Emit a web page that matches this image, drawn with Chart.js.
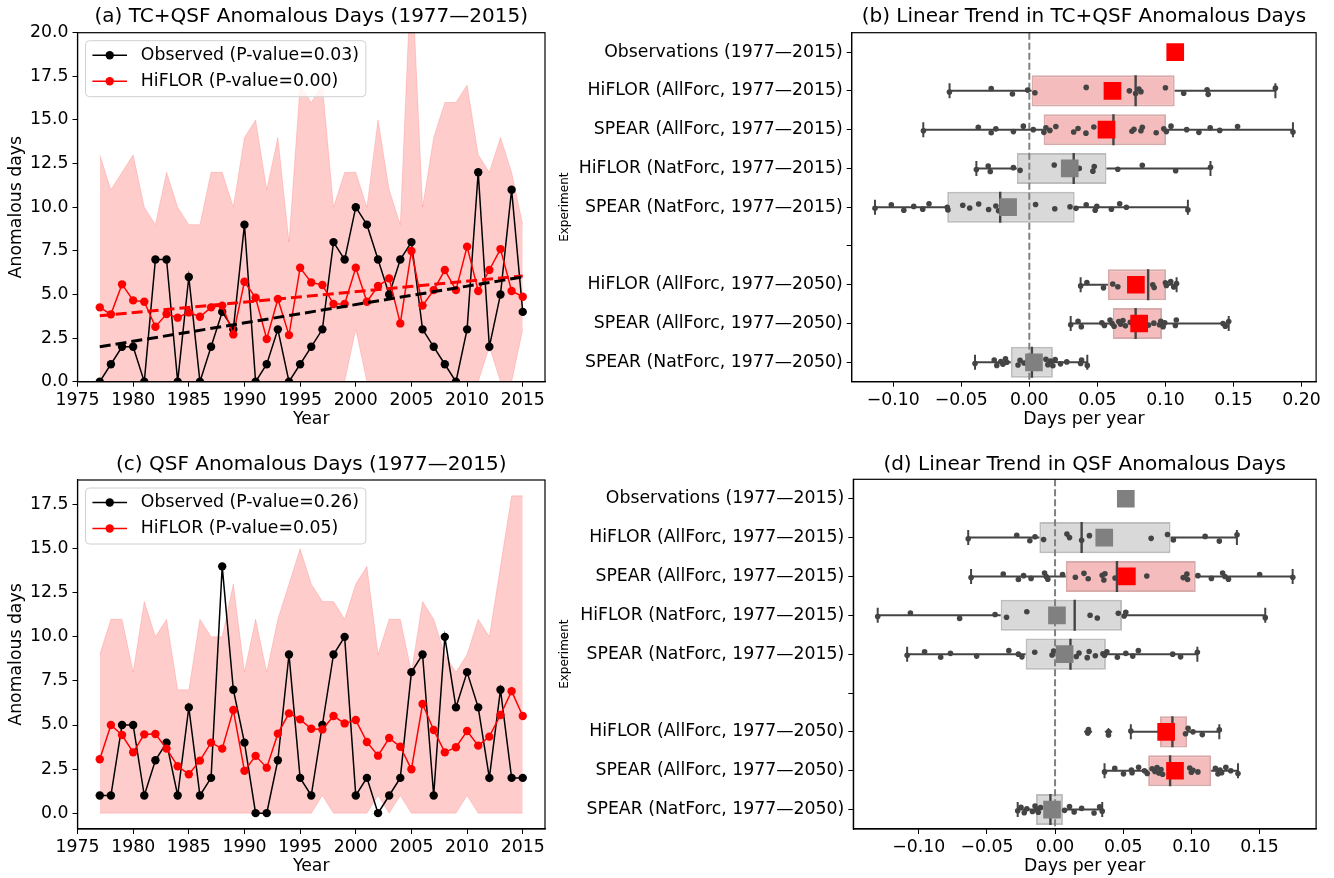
<!DOCTYPE html>
<html>
<head>
<meta charset="utf-8">
<script src="https://cdn.jsdelivr.net/npm/chart.js@4.4.1/dist/chart.umd.min.js"></script>
<style>
  html, body { margin: 0; padding: 0; background: #fff; }
  body { width: 1334px; height: 878px; position: relative; overflow: hidden; }
  canvas { position: absolute; }
  #panelA { left: 0; top: 0; }
  #panelB { left: 555px; top: 0; }
  #panelC { left: 0; top: 440px; }
  #panelD { left: 555px; top: 440px; }
</style>
</head>
<body>
<canvas id="panelA" width="560" height="440"></canvas>
<canvas id="panelB" width="779" height="440"></canvas>
<canvas id="panelC" width="560" height="438"></canvas>
<canvas id="panelD" width="779" height="438"></canvas>
<script>
// ---- data: yearly anomalous days ----
const years = [1977, 1978, 1979, 1980, 1981, 1982, 1983, 1984, 1985, 1986, 1987, 1988, 1989,
  1990, 1991, 1992, 1993, 1994, 1995, 1996, 1997, 1998, 1999, 2000, 2001, 2002, 2003,
  2004, 2005, 2006, 2007, 2008, 2009, 2010, 2011, 2012, 2013, 2014, 2015];

// (a) TC+QSF
const tcqsfObserved = [0, 1, 2, 2, 0, 7, 7, 0, 6, 0, 2, 4, 3, 9, 0, 1, 3, 0, 1, 2, 3, 8, 7, 10,
  9, 7, 5, 7, 8, 3, 2, 1, 0, 3, 12, 2, 5, 11, 4];
const tcqsfHiflor = [4.26, 3.86, 5.58, 4.66, 4.58, 3.15, 3.88, 3.67, 3.97, 3.72, 4.26, 4.36, 2.71,
  5.73, 4.81, 2.45, 4.74, 2.67, 6.53, 5.69, 5.54, 4.45, 4.45, 6.53, 4.58, 5.48, 5.92, 3.34,
  7.49, 4.36, 5.25, 6.40, 5.25, 7.74, 5.20, 6.40, 7.60, 5.20, 4.87];
const tcqsfHiflorMax = [13, 11, 12, 13, 10, 9, 12, 10, 9, 9, 12, 12, 10, 14, 15, 11, 14, 8, 17, 16,
  17, 10, 12, 12, 10, 15, 11, 9, 24, 10, 14, 16, 16, 17, 13, 12, 14, 12, 9];
const tcqsfHiflorMin = [0, 0, 0, 0, 0, 0, 0, 0, 0, 0, 0, 0, 0, 0, 0, 0, 0, 0, 0, 0, 0, 0, 0, 3,
  0, 0, 0, 0, 0, 0, 0, 0, 0, 0, 0, 2, 0, 0, 3];
const tcqsfObservedFit = [2.0, 6.0];   // linear fit at 1977 and 2015
const tcqsfHiflorFit = [3.78, 6.06];

// (c) QSF
const qsfObserved = [1, 1, 5, 5, 1, 3, 4, 1, 6, 1, 2, 14, 7, 4, 0, 0, 3, 9, 2, 1, 5, 9, 10, 1,
  2, 0, 1, 2, 8, 9, 1, 10, 6, 8, 6, 2, 7, 2, 2];
const qsfHiflor = [3.06, 5.0, 4.43, 3.45, 4.47, 4.49, 3.66, 2.66, 2.21, 2.98, 4.0, 3.66, 5.85,
  2.4, 3.25, 2.58, 4.51, 5.66, 5.32, 4.79, 4.75, 5.51, 5.09, 5.28, 4.04, 3.26, 4.26, 3.77,
  2.49, 6.19, 4.72, 3.45, 3.74, 4.66, 3.83, 4.34, 5.57, 6.92, 5.51];
const qsfHiflorMax = [9, 11, 11, 8, 12, 10, 11, 7, 7, 11, 10, 10, 13, 8, 11, 8, 11, 13, 15, 13,
  12, 12, 11, 13, 14, 9, 11, 11, 8, 12, 11, 9, 8, 9, 11, 10, 14, 18, 18];
const qsfHiflorMin = [0, 0, 0, 0, 0, 0, 0, 0, 0, 0, 0, 0, 0, 0, 0, 0, 0, 0, 0, 0, 1, 0, 0, 0,
  0, 1, 0, 1, 0, 0, 0, 0, 0, 1, 0, 0, 0, 0, 0];

const yearTicks = [1975, 1980, 1985, 1990, 1995, 2000, 2005, 2010, 2015];
const tcqsfDayTicks = [0, 2.5, 5, 7.5, 10, 12.5, 15, 17.5, 20];
const qsfDayTicks = [0, 2.5, 5, 7.5, 10, 12.5, 15, 17.5];

// ---- data: trends per experiment (days per year) ----
const experiments = ['Observations (1977\u20142015)', 'HiFLOR (AllForc, 1977\u20142015)',
  'SPEAR (AllForc, 1977\u20142015)', 'HiFLOR (NatForc, 1977\u20142015)', 'SPEAR (NatForc, 1977\u20142015)',
  '', 'HiFLOR (AllForc, 1977\u20142050)', 'SPEAR (AllForc, 1977\u20142050)', 'SPEAR (NatForc, 1977\u20142050)'];

// (b) TC+QSF
const tcqsfQ1 = [null, 0.0017, 0.0105, -0.0092, -0.0603, null, 0.0577, 0.0613, -0.0136];
const tcqsfMedian = [null, 0.0781, 0.0618, 0.0326, -0.0214, null, 0.0873, 0.0781, 0.0019];
const tcqsfQ3 = [null, 0.1068, 0.1005, 0.0567, 0.0333, null, 0.1005, 0.0975, 0.0173];
const tcqsfLow = [null, -0.0586, -0.0779, -0.0389, -0.1134, null, 0.0377, 0.0304, -0.0399];
const tcqsfHigh = [null, 0.1808, 0.1937, 0.1331, 0.1165, null, 0.1082, 0.1465, 0.0426];
const tcqsfMean = [0.1072, 0.0611, 0.0567, 0.0297, -0.0156, null, 0.0783, 0.0807, 0.0034];
const tcqsfSignificant = [true, true, true, false, false, false, true, true, false];
const tcqsfMembers = [
  [],
  [-0.0587, -0.0280, -0.0124, -0.0012, 0.0041, 0.0418, 0.0735, 0.0781, 0.0805, 0.0820, 0.1000,
    0.1134, 0.1306, 0.1314, 0.1808],
  [-0.0778, -0.0375, -0.0280, -0.0246, -0.0117, -0.0044, 0.0029, 0.0107, 0.0122, 0.0151, 0.0195,
    0.0326, 0.0358, 0.0416, 0.0474, 0.0754, 0.0769, 0.0820, 0.0830, 0.0932, 0.0988, 0.1007,
    0.1041, 0.1156, 0.1246, 0.1329, 0.1399, 0.1530, 0.1937],
  [-0.0389, -0.0302, -0.0287, -0.0117, -0.0068, 0.0183, 0.0367, 0.0467, 0.0477, 0.0650, 0.0830,
    0.1075, 0.1331],
  [-0.1134, -0.1014, -0.0922, -0.0849, -0.0783, -0.0737, -0.0603, -0.0598, -0.0489, -0.0438,
    -0.0372, -0.0299, -0.0246, -0.0226, 0.0046, 0.0187, 0.0299, 0.0343, 0.0418, 0.0484, 0.0496,
    0.0603, 0.0664, 0.0713, 0.1165],
  [],
  [0.0377, 0.0423, 0.0545, 0.0613, 0.0650, 0.0810, 0.0907, 0.0917, 0.1000, 0.1007, 0.1039,
    0.1061, 0.1082],
  [0.0304, 0.0358, 0.0382, 0.0533, 0.0552, 0.0593, 0.0608, 0.0623, 0.0657, 0.0671, 0.0688,
    0.0706, 0.0742, 0.0793, 0.0839, 0.0876, 0.0915, 0.0956, 0.0966, 0.0983, 0.0995, 0.1073,
    0.1080, 0.1423, 0.1440, 0.1465],
  [-0.0399, -0.0258, -0.0239, -0.0209, -0.0194, -0.0175, -0.0165, -0.0083, -0.0068, -0.0039,
    0.0122, 0.0136, 0.0156, 0.0173, 0.0190, 0.0229, 0.0275, 0.0377, 0.0384, 0.0426]
];
const tcqsfOutliers = [[], [], [], [], [], [], [], [], []];

// (d) QSF
const qsfQ1 = [null, -0.0115, 0.0079, -0.0399, -0.0216, null, 0.0770, 0.0683, -0.0140];
const qsfMedian = [null, 0.0195, 0.0454, 0.0144, 0.0113, null, 0.0861, 0.0844, -0.0034];
const qsfQ3 = [null, 0.0847, 0.1032, 0.0491, 0.0373, null, 0.0969, 0.1145, 0.0058];
const qsfLow = [null, -0.0637, -0.0616, -0.1301, -0.1085, null, 0.0556, 0.0363, -0.0274];
const qsfHigh = [null, 0.1334, 0.1743, 0.1542, 0.1044, null, 0.1205, 0.1342, 0.0346];
const qsfMean = [0.0519, 0.0361, 0.0527, 0.0014, 0.0070, null, 0.0815, 0.0880, -0.0022];
const qsfSignificant = [false, false, true, false, false, false, true, true, false];
const qsfMembers = [
  [],
  [-0.0637, -0.0281, -0.0185, -0.0147, -0.0084, 0.0087, 0.0106, 0.0195, 0.0252, 0.0705, 0.0825,
    0.0868, 0.1101, 0.1205, 0.1335],
  [-0.0616, -0.0380, -0.0269, -0.0231, -0.0176, -0.0077, -0.0065, -0.0053, 0.0055, 0.0149,
    0.0212, 0.0243, 0.0346, 0.0358, 0.0366, 0.0440, 0.0673, 0.0940, 0.0967, 0.0972, 0.1048,
    0.1147, 0.1229, 0.1246, 0.1272, 0.1501, 0.1744],
  [-0.1301, -0.1061, -0.0700, -0.0440, -0.0356, -0.0207, 0.0257, 0.0310, 0.0464, 0.0507, 0.0519,
    0.1542],
  [-0.1085, -0.0957, -0.0839, -0.0767, -0.0575, -0.0339, -0.0269, -0.0243, -0.0149, -0.0022,
    -0.0010, 0.0156, 0.0176, 0.0236, 0.0250, 0.0296, 0.0351, 0.0363, 0.0380, 0.0457, 0.0519,
    0.0570, 0.0611, 0.0863, 0.0921, 0.1044],
  [],
  [0.0240, 0.0245, 0.0392, 0.0556, 0.0957, 0.0976, 0.1012, 0.1080, 0.1205],
  [0.0363, 0.0438, 0.0502, 0.0560, 0.0565, 0.0613, 0.0656, 0.0676, 0.0712, 0.0733, 0.0748,
    0.0762, 0.0777, 0.0789, 0.0988, 0.1000, 0.1012, 0.1048, 0.1176, 0.1195, 0.1210, 0.1222,
    0.1253, 0.1289, 0.1342],
  [-0.0274, -0.0250, -0.0226, -0.0207, -0.0166, -0.0147, -0.0135, -0.0123, -0.0106, 0.0070,
    0.0106, 0.0140, 0.0195, 0.0286, 0.0327, 0.0346]
];
const qsfOutliers = [[], [], [], [], [], [], [0.0240, 0.0245, 0.0392], [], []];

const trendTicksB = [-0.10, -0.05, 0, 0.05, 0.10, 0.15, 0.20];
const trendTicksD = [-0.10, -0.05, 0, 0.05, 0.10, 0.15];

// ---- styles ----
Chart.defaults.font.family = "'DejaVu Sans', sans-serif";
Chart.defaults.color = '#000';
const FONT = 17.3;
const DARK = '#444444';
// vertical offsets of strip points inside a row (category units)
const jitter = [0.03, -0.06, 0.08, -0.02, 0.05, -0.09, 0.0, 0.07, -0.05, 0.02, -0.08, 0.06,
  -0.03, 0.09, -0.07, 0.04, -0.01];

const frame = {
  id: 'frame',
  afterDraw(chart) {
    const { ctx, chartArea: a } = chart;
    ctx.save();
    ctx.strokeStyle = '#000';
    ctx.lineWidth = 1.2;
    ctx.strokeRect(a.left, a.top, a.right - a.left, a.bottom - a.top);
    ctx.restore();
  }
};

// matplotlib-like legend box in the upper left of the axes
const boxLegend = {
  id: 'boxLegend',
  afterDatasetsDraw(chart, args, opts) {
    if (!opts || !opts.items) return;
    const { ctx, chartArea: a } = chart;
    const em = FONT;
    ctx.save();
    ctx.font = FONT + "px 'DejaVu Sans'";
    const textW = Math.max(...opts.items.map(it => ctx.measureText(it.label).width));
    const x0 = a.left + 8, y0 = a.top + 8;
    const w = 0.4 * em + 2 * em + 0.8 * em + textW + 0.4 * em;
    const h = 56, r = 4;
    ctx.beginPath();
    ctx.moveTo(x0 + r, y0);
    ctx.arcTo(x0 + w, y0, x0 + w, y0 + h, r);
    ctx.arcTo(x0 + w, y0 + h, x0, y0 + h, r);
    ctx.arcTo(x0, y0 + h, x0, y0, r);
    ctx.arcTo(x0, y0, x0 + w, y0, r);
    ctx.closePath();
    ctx.fillStyle = 'rgba(255,255,255,0.8)';
    ctx.fill();
    ctx.strokeStyle = '#d0d0d0';
    ctx.lineWidth = 1;
    ctx.stroke();
    opts.items.forEach((it, k) => {
      const cy = y0 + 14.5 + k * 26;
      const lx = x0 + 0.4 * em;
      ctx.strokeStyle = it.color;
      ctx.fillStyle = it.color;
      ctx.lineWidth = 1.5;
      ctx.beginPath();
      ctx.moveTo(lx, cy);
      ctx.lineTo(lx + 2 * em, cy);
      ctx.stroke();
      ctx.beginPath();
      ctx.arc(lx + em, cy, 4.2, 0, Math.PI * 2);
      ctx.fill();
      ctx.fillStyle = '#000';
      ctx.textBaseline = 'middle';
      ctx.fillText(it.label, lx + 2.8 * em, cy);
    });
    ctx.restore();
  }
};

const xy = (xs, ys) => xs.map((x, i) => ({ x: x, y: ys[i] }));
const minus = v => (v < 0 ? '\u2212' : '') + Math.abs(v).toFixed(2);

function seriesPanel(id, cfg) {
  const first = years[0], last = years[years.length - 1];
  const datasets = [];
  if (cfg.obsFit) {
    datasets.push({ data: [{ x: first, y: cfg.obsFit[0] }, { x: last, y: cfg.obsFit[1] }],
      borderColor: '#000', borderWidth: 3, borderDash: [11, 5], pointRadius: 0, order: 0 });
  }
  if (cfg.hiFit) {
    datasets.push({ data: [{ x: first, y: cfg.hiFit[0] }, { x: last, y: cfg.hiFit[1] }],
      borderColor: '#ff0000', borderWidth: 3, borderDash: [11, 5], pointRadius: 0, order: 1 });
  }
  datasets.push(
    { data: xy(years, cfg.hiflor), borderColor: '#ff0000', backgroundColor: '#ff0000',
      borderWidth: 1.5, pointRadius: 4.2, pointBorderWidth: 0, clip: 0, order: 2 },
    { data: xy(years, cfg.obs), borderColor: '#000', backgroundColor: '#000',
      borderWidth: 1.5, pointRadius: 4.2, pointBorderWidth: 0, clip: 0, order: 3 },
    { data: xy(years, cfg.hiMax), fill: '+1', backgroundColor: 'rgba(255,0,0,0.2)',
      borderColor: 'rgba(255,0,0,0.15)', borderWidth: 1, pointRadius: 0, clip: 0, order: 4 },
    { data: xy(years, cfg.hiMin), fill: false,
      borderColor: 'rgba(255,0,0,0.15)', borderWidth: 1, pointRadius: 0, clip: 0, order: 5 }
  );

  return new Chart(document.getElementById(id), {
    type: 'line',
    data: { datasets: datasets },
    options: {
      responsive: false,
      animation: false,
      events: [],
      devicePixelRatio: 1,
      layout: { padding: { left: 0, right: cfg.padRight, top: 0, bottom: 0 } },
      plugins: {
        legend: { display: false },
        tooltip: { enabled: false },
        title: { display: true, text: cfg.title, fullSize: false,
          font: { size: 20, weight: 'normal' }, padding: cfg.titlePad },
        boxLegend: { items: cfg.legend }
      },
      scales: {
        x: {
          type: 'linear', min: 1975, max: 2017,
          afterBuildTicks: s => { s.ticks = yearTicks.map(v => ({ value: v })); },
          afterFit: s => { s.height = cfg.xAxisH; },
          ticks: { callback: v => String(v), font: { size: FONT }, padding: 3, maxRotation: 0, autoSkip: false },
          grid: { drawOnChartArea: false, tickLength: 5, color: '#000' },
          border: { color: '#000', width: 1.2 },
          title: { display: true, text: 'Year', font: { size: FONT }, padding: { top: 0, bottom: cfg.xTitlePad } }
        },
        y: {
          type: 'linear', min: cfg.yMin, max: cfg.yMax,
          afterBuildTicks: s => { s.ticks = cfg.yTicks.map(v => ({ value: v })); },
          afterFit: s => { s.width = 77.5; },
          ticks: { callback: v => v.toFixed(1), font: { size: FONT }, padding: 4, autoSkip: false },
          grid: { drawOnChartArea: false, tickLength: 5, color: '#000' },
          border: { color: '#000', width: 1.2 },
          title: { display: true, text: 'Anomalous days', font: { size: FONT }, padding: { top: 6, bottom: 0 } }
        }
      }
    },
    plugins: [boxLegend, frame]
  });
}

function trendPanel(id, cfg) {
  const rows = experiments.map((_, i) => i);
  const boxed = rows.filter(i => cfg.q1[i] !== null);
  const withMean = rows.filter(i => cfg.mean[i] !== null);

  const whiskers = [];
  const caps = [];
  boxed.forEach(i => {
    whiskers.push({ x: cfg.low[i], y: i }, { x: cfg.q1[i], y: i }, { x: cfg.q1[i], y: null },
      { x: cfg.q3[i], y: i }, { x: cfg.high[i], y: i }, { x: cfg.high[i], y: null });
    caps.push({ x: cfg.low[i], y: i }, { x: cfg.high[i], y: i });
  });
  const strip = [];
  cfg.members.forEach((vals, i) => vals.forEach((v, k) => strip.push({ x: v, y: i + jitter[k % jitter.length] })));
  const fliers = [];
  cfg.outliers.forEach((vals, i) => vals.forEach(v => fliers.push({ x: v, y: i })));

  return new Chart(document.getElementById(id), {
    type: 'scatter',
    data: {
      datasets: [
        { type: 'scatter', data: withMean.map(i => ({ x: cfg.mean[i], y: i })), pointStyle: 'rect',
          pointRadius: 12.5, pointBorderWidth: 0,
          pointBackgroundColor: withMean.map(i => cfg.sig[i] ? '#ff0000' : '#808080'), order: 0 },
        { type: 'scatter', data: strip, pointRadius: 2.8, pointBorderWidth: 0,
          pointBackgroundColor: DARK, order: 1 },
        { type: 'scatter', data: fliers, pointStyle: 'rectRot', pointRadius: 4, pointBorderWidth: 0,
          pointBackgroundColor: DARK, order: 2 },
        { type: 'scatter', data: boxed.map(i => ({ x: cfg.median[i], y: i })), pointStyle: 'line',
          pointRotation: 90, pointRadius: 15.5, pointBorderColor: DARK, pointBorderWidth: 2.4, order: 3 },
        { type: 'scatter', data: caps, pointStyle: 'line', pointRotation: 90, pointRadius: 7.5,
          pointBorderColor: DARK, pointBorderWidth: 2, order: 4 },
        { type: 'line', data: whiskers, borderColor: DARK, borderWidth: 2, pointRadius: 0,
          spanGaps: false, order: 5 },
        { type: 'line', data: [{ x: 0, y: -0.5 }, { x: 0, y: 8.5 }], borderColor: '#808080',
          borderWidth: 2, borderDash: [7, 3], pointRadius: 0, order: 6 },
        { type: 'bar', indexAxis: 'y', data: boxed.map(i => ({ x: [cfg.q1[i], cfg.q3[i]], y: i })),
          backgroundColor: boxed.map(i => cfg.sig[i] ? '#f4bcbc' : '#d9d9d9'),
          borderColor: boxed.map(i => cfg.sig[i] ? '#d8aaaa' : '#bdbdbd'),
          borderWidth: 2, borderSkipped: false, categoryPercentage: 1, barPercentage: 0.8, order: 7 }
      ]
    },
    options: {
      responsive: false,
      animation: false,
      events: [],
      devicePixelRatio: 1,
      layout: { padding: { left: 0, right: cfg.padRight, top: 0, bottom: 0 } },
      plugins: {
        legend: { display: false },
        tooltip: { enabled: false },
        title: { display: true, text: cfg.title, fullSize: false,
          font: { size: 20, weight: 'normal' }, padding: cfg.titlePad }
      },
      scales: {
        x: {
          type: 'linear', min: cfg.xMin, max: cfg.xMax, beginAtZero: false, offset: false,
          afterBuildTicks: s => { s.ticks = cfg.xTicks.map(v => ({ value: v })); },
          afterFit: s => { s.height = cfg.xAxisH; },
          ticks: { callback: v => minus(v), font: { size: FONT }, padding: 3, maxRotation: 0, autoSkip: false },
          grid: { drawOnChartArea: false, tickLength: 5, color: '#000', offset: false },
          border: { color: '#000', width: 1.2 },
          title: { display: true, text: 'Days per year', font: { size: FONT }, padding: { top: 0, bottom: cfg.xTitlePad } }
        },
        y: {
          type: 'linear', reverse: true, min: -0.5, max: 8.5, offset: false,
          afterBuildTicks: s => { s.ticks = rows.map(i => ({ value: i })); },
          afterFit: s => { s.width = cfg.yAxisW; },
          ticks: { callback: v => experiments[v], font: { size: FONT }, padding: 4, autoSkip: false },
          grid: { drawOnChartArea: false, tickLength: 5, color: '#000', offset: false },
          border: { color: '#000', width: 1.2 },
          title: { display: true, text: 'Experiment', font: { size: 12 }, padding: { top: 2.5, bottom: 0 } }
        }
      }
    },
    plugins: [frame]
  });
}

seriesPanel('panelA', {
  title: '(a) TC+QSF Anomalous Days (1977\u20142015)',
  obs: tcqsfObserved, hiflor: tcqsfHiflor, hiMax: tcqsfHiflorMax, hiMin: tcqsfHiflorMin,
  obsFit: tcqsfObservedFit, hiFit: tcqsfHiflorFit,
  yMin: 0, yMax: 20, yTicks: tcqsfDayTicks,
  legend: [{ label: 'Observed (P-value=0.03)', color: '#000' }, { label: 'HiFLOR (P-value=0.00)', color: '#ff0000' }],
  padRight: 15, titlePad: { top: 5, bottom: 3.7 }, xAxisH: 58.3, xTitlePad: 10.6
});

seriesPanel('panelC', {
  title: '(c) QSF Anomalous Days (1977\u20142015)',
  obs: qsfObserved, hiflor: qsfHiflor, hiMax: qsfHiflorMax, hiMin: qsfHiflorMin,
  obsFit: null, hiFit: null,
  yMin: -0.9, yMax: 18.9, yTicks: qsfDayTicks,
  legend: [{ label: 'Observed (P-value=0.26)', color: '#000' }, { label: 'HiFLOR (P-value=0.05)', color: '#ff0000' }],
  padRight: 15, titlePad: { top: 13, bottom: 3 }, xAxisH: 49, xTitlePad: 1.6
});

trendPanel('panelB', {
  title: '(b) Linear Trend in TC+QSF Anomalous Days',
  q1: tcqsfQ1, median: tcqsfMedian, q3: tcqsfQ3, low: tcqsfLow, high: tcqsfHigh,
  mean: tcqsfMean, sig: tcqsfSignificant, members: tcqsfMembers, outliers: tcqsfOutliers,
  xMin: -0.1305, xMax: 0.2107, xTicks: trendTicksB,
  yAxisW: 296.7, padRight: 15, titlePad: { top: 5, bottom: 3.7 }, xAxisH: 58.3, xTitlePad: 10.6
});

trendPanel('panelD', {
  title: '(d) Linear Trend in QSF Anomalous Days',
  q1: qsfQ1, median: qsfMedian, q3: qsfQ3, low: qsfLow, high: qsfHigh,
  mean: qsfMean, sig: qsfSignificant, members: qsfMembers, outliers: qsfOutliers,
  xMin: -0.148, xMax: 0.1915, xTicks: trendTicksD,
  yAxisW: 298.3, padRight: 10.5, titlePad: { top: 13, bottom: 2.3 }, xAxisH: 49, xTitlePad: 1.6
});
</script>
</body>
</html>
